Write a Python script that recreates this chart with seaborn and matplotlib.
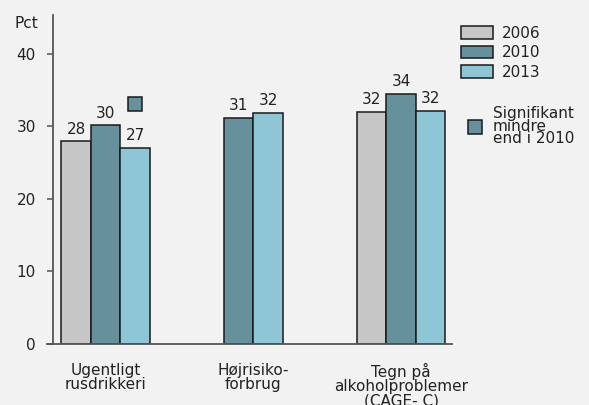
import numpy as np
import pandas as pd
import matplotlib
matplotlib.use("Agg")
import matplotlib.pyplot as plt
from matplotlib.patches import Patch
from matplotlib.lines import Line2D
import seaborn as sns

# ---- data ----
categories = ["Ugentligt\nrusdrikkeri", "Højrisiko-\nforbrug", "Tegn på\nalkoholproblemer\n(CAGE- C)"]
years = ["2006", "2010", "2013"]
values_2006 = [27.9, np.nan, 32.0]
values_2010 = [30.1, 31.1, 34.4]
values_2013 = [27.0, 31.8, 32.1]
sig_label = "Signifikant\nmindre\nend i 2010"
sig_value = 33.0          # marker above the 2013 bar of first category
yticks = [0, 10, 20, 30, 40]

colors = {"2006": "#c6c6c6", "2010": "#66919c", "2013": "#8fc6d6"}
bg = "#f2f2f2"

rows = []
for yr, vals in zip(years, [values_2006, values_2010, values_2013]):
    for c, v in zip(categories, vals):
        if not np.isnan(v):
            rows.append({"cat": c, "year": yr, "value": v})
df = pd.DataFrame(rows)

sns.set_style("white")
plt.rcParams["font.family"] = ["DejaVu Sans"]
plt.rcParams["font.size"] = 11

fig = plt.figure(figsize=(5.89, 4.05), dpi=100, facecolor=bg)
ax = fig.add_axes([47 / 589, 1 - 343.5 / 405, (452 - 47) / 589, (343.5 - 15.3) / 405])
ax.set_facecolor(bg)

full = df[df["cat"] != categories[1]]
part = df[df["cat"] == categories[1]]

sns.barplot(data=full, x="cat", y="value", hue="year", order=categories,
            hue_order=years, palette=colors, width=0.6, ax=ax, legend=False,
            edgecolor="#1a1a1a", linewidth=1.1, saturation=1)
sig_bar = ax.containers[2][0]
sns.barplot(data=part, x="cat", y="value", hue="year", order=categories,
            hue_order=["2010", "2013"], palette=colors, width=0.4, ax=ax, legend=False,
            edgecolor="#1a1a1a", linewidth=1.1, saturation=1)

for cont in ax.containers:
    ax.bar_label(cont, fmt="{:.0f}", padding=3.5, fontsize=11, color="#222222")

# significance marker
ax.plot([sig_bar.get_x() + sig_bar.get_width() / 2], [sig_value], marker="s",
        markersize=10.5, markerfacecolor=colors["2010"], markeredgecolor="#1a1a1a",
        markeredgewidth=1.1, linestyle="none")

ax.set_xlim(-0.397, 2.345)
ax.set_ylim(0, 45.3)
ax.set_yticks(yticks)
ax.set_xlabel("")
ax.set_ylabel("")
for s in ["top", "right"]:
    ax.spines[s].set_visible(False)
ax.spines["left"].set_position(("data", -0.359))
for s in ["left", "bottom"]:
    ax.spines[s].set_color("#555555")
    ax.spines[s].set_linewidth(1.3)
ax.tick_params(axis="y", length=4, width=1.1, color="#555555", pad=8,
               labelsize=11, labelcolor="#222222", left=True)
ax.tick_params(axis="x", length=0, pad=14, labelsize=11, labelcolor="#222222")
for t in ax.get_xticklabels():
    t.set_linespacing(0.95)

fig.text(38 / 589, 1 - 24 / 405, "Pct", ha="right", va="center", fontsize=11, color="#222222")

# legends
h1 = [Patch(facecolor=colors[y], edgecolor="#1a1a1a", linewidth=1.1) for y in years]
leg1 = fig.legend(h1, years, loc="upper left", bbox_to_anchor=(461 / 589, 1 - 26 / 405),
                  frameon=False, fontsize=11, handlelength=2.1, handleheight=0.92,
                  handletextpad=0.6, labelspacing=0.28, borderpad=0, borderaxespad=0)
h2 = [Line2D([], [], marker="s", markersize=10.5, markerfacecolor=colors["2010"],
             markeredgecolor="#1a1a1a", markeredgewidth=1.1, linestyle="none")]
leg2 = fig.legend(h2, [sig_label], loc="upper left", bbox_to_anchor=(466 / 589, 1 - 106 / 405),
                  frameon=False, fontsize=11, handlelength=1.2, handletextpad=0.55,
                  borderpad=0, borderaxespad=0)
for t in leg2.get_texts():
    t.set_linespacing(0.8)
for t in list(leg1.get_texts()) + list(leg2.get_texts()):
    t.set_color("#222222")

fig.savefig("out.png", dpi=100, facecolor=bg)
